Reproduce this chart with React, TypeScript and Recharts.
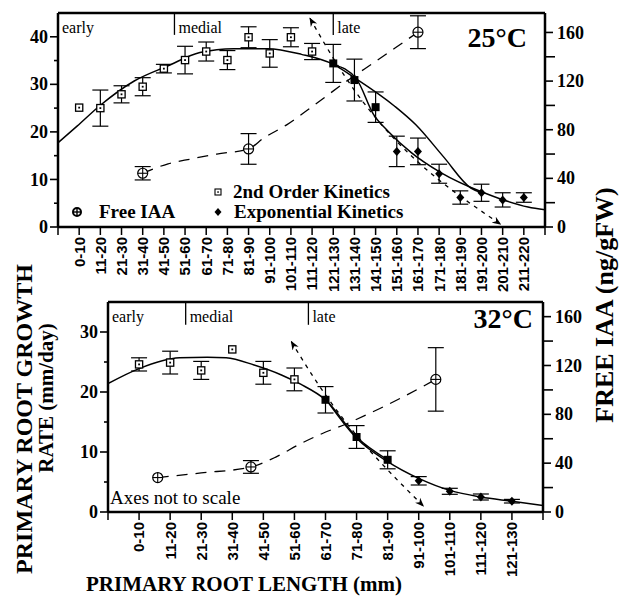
import React from 'react';
import { ComposedChart, Line, Scatter, XAxis, YAxis, ErrorBar, ReferenceLine } from 'recharts';

// ---------------- 25°C panel ----------------
const topCategories = ['0-10', '11-20', '21-30', '31-40', '41-50', '51-60', '61-70', '71-80', '81-90', '91-100', '101-110', '111-120', '121-130', '131-140', '141-150', '151-160', '161-170', '171-180', '181-190', '191-200', '201-210', '211-220'];

const top2ndOrderPos = [1, 2, 3, 4, 5, 6, 7, 8, 9, 10, 11, 12];
const top2ndOrderRate = [25.1, 25.0, 27.9, 29.5, 33.3, 35.1, 36.9, 35.1, 39.9, 36.5, 39.9, 36.9];
const top2ndOrderErr = [0, 3.8, 1.8, 1.9, 0.9, 2.9, 2.0, 2.0, 2.2, 2.9, 2.0, 1.7];

const topOverlapPos = [13, 14, 15];
const topOverlapRate = [34.4, 30.9, 25.2];
const topOverlapErr = [4.0, 4.4, 3.2];

const topExpPos = [16, 17, 18, 19, 20, 21, 22];
const topExpRate = [15.9, 15.9, 11.2, 6.2, 7.2, 5.7, 6.2];
const topExpErr = [3.2, 2.8, 2.0, 1.4, 1.8, 1.5, 1.0];

const topIaaPos = [4, 9, 17];
const topIaaValue = [44.2, 64.2, 160.2];
const topIaaErr = [5.5, 12.6, 13.5];

const top2ndFitPos = [0, 0.9, 2, 3.6, 5.2, 6.7, 8.3, 9.9, 11.5, 13, 14.1, 15.9, 16.9, 18.2, 19.5, 20];
const top2ndFitRate = [17.7, 21.2, 25.6, 30.7, 33.9, 36.7, 37.5, 37.5, 36.3, 34.2, 31.1, 25.4, 21.5, 14.8, 8.2, 7.2];
const topExpFitPos = [13, 14.1, 14.9, 15.6, 16.7, 18.1, 20, 20.9, 22.2, 23];
const topExpFitRate = [34.2, 31.1, 23.7, 20.1, 15.6, 11.4, 7.4, 5.9, 4.2, 3.6];
const topIaaFitPos = [4, 5.2, 6.3, 7.5, 9, 9.7, 10.8, 12, 13.8, 14.9, 15.9, 17];
const topIaaFitValue = [44.2, 52, 56, 60, 64.2, 73, 84, 99, 122, 135, 147, 160.2];
const topArrowPos = [11.9, 13.0, 20.9];
const topArrowRate = [43.9, 35.5, 0.6];
const topStageBounds = [0, 5.5, 13];

// ---------------- 32°C panel ----------------
const bottomCategories = ['0-10', '11-20', '21-30', '31-40', '41-50', '51-60', '61-70', '71-80', '81-90', '91-100', '101-110', '111-120', '121-130'];

const bot2ndOrderPos = [1, 2, 3, 4, 5, 6];
const bot2ndOrderRate = [24.6, 24.9, 23.6, 27.1, 23.2, 22.1];
const bot2ndOrderErr = [1.1, 1.9, 1.5, 0, 1.9, 1.9];

const botOverlapPos = [7, 8, 9];
const botOverlapRate = [18.7, 12.5, 8.7];
const botOverlapErr = [2.2, 1.9, 1.5];

const botExpPos = [10, 11, 12, 13];
const botExpRate = [5.2, 3.45, 2.5, 1.8];
const botExpErr = [0.7, 0.5, 0.5, 0.3];

const botIaaPos = [1.6, 4.6, 10.55];
const botIaaValue = [28.2, 36.9, 108.6];
const botIaaErr = [0, 5.2, 26];

const bot2ndFitPos = [0, 1, 2.3, 3.2, 3.8, 4.7, 5.6, 6.2, 7, 8, 9];
const bot2ndFitRate = [21.4, 23.9, 25.7, 25.8, 25.7, 24.5, 22.8, 21.3, 18.7, 12.5, 8.7];
const botExpFitPos = [7, 8, 9, 10, 11, 12, 13, 14];
const botExpFitRate = [18.9, 12.3, 8.4, 5.6, 3.6, 2.5, 1.8, 1.1];
const botIaaFitPos = [1.6, 3, 4.6, 5.4, 6.2, 6.9, 7.7, 8.75, 9.5, 10.55];
const botIaaFitValue = [28.2, 32, 36.9, 45, 56, 64.3, 72.5, 84.8, 94.3, 108.6];
const botArrowPos = [5.9, 6.7, 10.15];
const botArrowRate = [28.4, 21.8, 1.0];
const botStageBounds = [0, 2.5, 6.45];

const stageNames = ['early', 'medial', 'late'];

// axis ticks
const topLeftTicks = [0, 5, 10, 15, 20, 25, 30, 35, 40];
const botLeftTicks = [0, 5, 10, 15, 20, 25, 30];
const rightTicks = [0, 20, 40, 60, 80, 100, 120, 140, 160];

const SERIF = "'Times New Roman', 'Liberation Serif', 'DejaVu Serif', serif";
const SANS = "Arial, 'Liberation Sans', Helvetica, sans-serif";

const pts = (xs: number[], ys: number[], es?: number[]) =>
  xs.map((x, i) => ({ x, y: ys[i], err: es ? es[i] : 0 }));

const OpenSquare = (p: any) => {
  if (p.cx == null) return null;
  return (
    <g>
      <rect x={p.cx - 3.6} y={p.cy - 3.6} width={7.2} height={7.2} fill="#fff" stroke="#000" strokeWidth={1.3} />
      <rect x={p.cx - 0.9} y={p.cy - 0.9} width={1.8} height={1.8} fill="#000" />
    </g>
  );
};
const FilledSquare = (p: any) =>
  p.cx == null ? null : <rect x={p.cx - 4} y={p.cy - 4} width={8} height={8} fill="#000" />;
const Diamond = (p: any) =>
  p.cx == null ? null : (
    <polygon points={`${p.cx},${p.cy - 4.5} ${p.cx + 4},${p.cy} ${p.cx},${p.cy + 4.5} ${p.cx - 4},${p.cy}`} fill="#000" />
  );
const CrossCircle = (p: any) =>
  p.cx == null ? null : (
    <g>
      <circle cx={p.cx} cy={p.cy} r={5} fill="#fff" stroke="#000" strokeWidth={1.2} />
      <line x1={p.cx - 5} y1={p.cy} x2={p.cx + 5} y2={p.cy} stroke="#000" strokeWidth={1.1} />
      <line x1={p.cx} y1={p.cy - 5} x2={p.cx} y2={p.cy + 5} stroke="#000" strokeWidth={1.1} />
    </g>
  );

const makeXTick = (cats: string[]) => (p: any) => {
  const v = p.payload.value;
  const label = v >= 1 && v <= cats.length ? cats[v - 1] : '';
  return (
    <g>
      <line x1={p.x} y1={p.y} x2={p.x} y2={p.y + 8} stroke="#000" strokeWidth={1.5} />
      {label && (
        <text
          transform={`translate(${p.x},${p.y + 10}) rotate(-90)`}
          textAnchor="end"
          dy="0.36em"
          fontFamily={SANS}
          fontWeight="bold"
          fontSize={15}
          fill="#000"
        >
          {label}
        </text>
      )}
    </g>
  );
};

const makeLeftTick = (major: number) => (p: any) => {
  const v = p.payload.value;
  const isMajor = v % major === 0;
  return (
    <g>
      <line x1={p.x} y1={p.y} x2={p.x - (isMajor ? 8 : 4)} y2={p.y} stroke="#000" strokeWidth={1.6} />
      {isMajor && (
        <text x={p.x - 10} y={p.y} dy="0.34em" textAnchor="end" fontFamily={SERIF} fontWeight="bold" fontSize={18} fill="#000">
          {v}
        </text>
      )}
    </g>
  );
};

const makeRightTick = (major: number) => (p: any) => {
  const v = p.payload.value;
  const isMajor = v % major === 0;
  return (
    <g>
      <line x1={p.x} y1={p.y} x2={p.x + (isMajor ? 8 : 10)} y2={p.y} stroke="#000" strokeWidth={1.6} />
      {isMajor && (
        <text x={p.x + 12} y={p.y} dy="0.34em" textAnchor="start" fontFamily={SERIF} fontWeight="bold" fontSize={18} fill="#000">
          {v}
        </text>
      )}
    </g>
  );
};

const StageLabel = (props: any) => {
  const vb = props.viewBox || {};
  const x = vb.x != null ? vb.x : vb.x1;
  const y = vb.y != null ? vb.y : Math.min(vb.y1, vb.y2);
  return (
    <text x={x + 4} y={y + 20} fontFamily={SERIF} fontSize={16} fill="#000">
      {props.text}
    </text>
  );
};

const axisStyle = { stroke: '#000', strokeWidth: 2.5 };

type PanelProps = {
  id: string;
  cats: string[];
  height: number;
  margin: { top: number; right: number; bottom: number; left: number };
  leftMax: number;
  leftTicks: number[];
  rightMax: number;
  stageBounds: number[];
  stageBottom: number;
  openSq: any[];
  filledSq: any[];
  diamonds: any[];
  iaa: any[];
  fit2nd: any[];
  fitExp: any[];
  fitIaa: any[];
  arrow: any[];
};

const Panel = (pp: PanelProps) => {
  const n = pp.cats.length;
  const xTicks = [0, ...pp.cats.map((_, i) => i + 1), n + 1];
  const markerId = `arrow-${pp.id}`;
  return (
    <ComposedChart width={621} height={pp.height} margin={pp.margin}>
      <defs>
        <marker id={markerId} viewBox="0 0 10 10" refX="9" refY="5" markerWidth="9" markerHeight="9" orient="auto-start-reverse" markerUnits="userSpaceOnUse">
          <path d="M0,1 L10,5 L0,9 L3,5 Z" fill="#000" />
        </marker>
      </defs>
      <XAxis
        type="number"
        dataKey="x"
        domain={[0, n + 1]}
        ticks={xTicks}
        interval={0}
        allowDataOverflow
        height={60}
        tickSize={0}
        tickMargin={0}
        tickLine={false}
        axisLine={axisStyle}
        tick={makeXTick(pp.cats)}
      />
      <YAxis
        yAxisId="left"
        type="number"
        dataKey="y"
        domain={[0, pp.leftMax]}
        ticks={pp.leftTicks}
        interval={0}
        allowDataOverflow
        width={58}
        tickSize={0}
        tickMargin={0}
        tickLine={false}
        axisLine={axisStyle}
        tick={makeLeftTick(10)}
      />
      <YAxis
        yAxisId="right"
        orientation="right"
        type="number"
        dataKey="y"
        domain={[0, pp.rightMax]}
        ticks={rightTicks}
        interval={0}
        allowDataOverflow
        width={50}
        tickSize={0}
        tickMargin={0}
        tickLine={false}
        axisLine={axisStyle}
        tick={makeRightTick(40)}
      />
      <ReferenceLine yAxisId="left" y={pp.leftMax} stroke="#000" strokeWidth={2.5} />
      {pp.stageBounds.map((b, i) => (
        <ReferenceLine
          key={`stage-${i}`}
          yAxisId="left"
          segment={[{ x: b, y: pp.leftMax }, { x: b, y: pp.stageBottom }]}
          stroke="#000"
          strokeWidth={i === 0 ? 0 : 1.3}
          strokeOpacity={i === 0 ? 0 : 1}
          label={<StageLabel text={stageNames[i]} />}
        />
      ))}
      <Line yAxisId="right" data={pp.fitIaa} dataKey="y" type="monotone" dot={false} stroke="#000" strokeWidth={1.3} strokeDasharray="11 8" isAnimationActive={false} />
      <Line
        yAxisId="left"
        data={pp.arrow}
        dataKey="y"
        type="monotone"
        dot={false}
        stroke="#000"
        strokeWidth={1.3}
        strokeDasharray="4 5"
        markerStart={`url(#${markerId})`}
        markerEnd={`url(#${markerId})`}
        isAnimationActive={false}
      />
      <Line yAxisId="left" data={pp.fit2nd} dataKey="y" type="monotone" dot={false} stroke="#000" strokeWidth={1.5} isAnimationActive={false} />
      <Line yAxisId="left" data={pp.fitExp} dataKey="y" type="monotone" dot={false} stroke="#000" strokeWidth={1.5} isAnimationActive={false} />
      <Scatter yAxisId="left" data={pp.openSq} dataKey="y" shape={OpenSquare} isAnimationActive={false}>
        <ErrorBar dataKey="err" direction="y" width={8} stroke="#000" strokeWidth={1.2} />
      </Scatter>
      <Scatter yAxisId="left" data={pp.filledSq} dataKey="y" shape={FilledSquare} isAnimationActive={false}>
        <ErrorBar dataKey="err" direction="y" width={8} stroke="#000" strokeWidth={1.2} />
      </Scatter>
      <Scatter yAxisId="left" data={pp.diamonds} dataKey="y" shape={Diamond} isAnimationActive={false}>
        <ErrorBar dataKey="err" direction="y" width={8} stroke="#000" strokeWidth={1.2} />
      </Scatter>
      <Scatter yAxisId="right" data={pp.iaa} dataKey="y" shape={CrossCircle} isAnimationActive={false}>
        <ErrorBar dataKey="err" direction="y" width={8} stroke="#000" strokeWidth={1.2} />
      </Scatter>
    </ComposedChart>
  );
};

export default function App() {
  return (
    <div style={{ position: 'absolute', left: 0, top: 0, width: 621, height: 599, background: '#fff' }}>
      <div style={{ position: 'absolute', left: 0, top: 0 }}>
        <Panel
          id="t25"
          cats={topCategories}
          height={300}
          margin={{ top: 13, right: 26, bottom: 13, left: 0 }}
          leftMax={45}
          leftTicks={topLeftTicks}
          rightMax={176}
          stageBounds={topStageBounds}
          stageBottom={40.4}
          openSq={pts(top2ndOrderPos, top2ndOrderRate, top2ndOrderErr)}
          filledSq={pts(topOverlapPos, topOverlapRate, topOverlapErr)}
          diamonds={pts(topExpPos, topExpRate, topExpErr)}
          iaa={pts(topIaaPos, topIaaValue, topIaaErr)}
          fit2nd={pts(top2ndFitPos, top2ndFitRate)}
          fitExp={pts(topExpFitPos, topExpFitRate)}
          fitIaa={pts(topIaaFitPos, topIaaFitValue)}
          arrow={pts(topArrowPos, topArrowRate)}
        />
      </div>
      <div style={{ position: 'absolute', left: 0, top: 290 }}>
        <Panel
          id="b32"
          cats={bottomCategories}
          height={309}
          margin={{ top: 12, right: 28, bottom: 27, left: 50 }}
          leftMax={35}
          leftTicks={botLeftTicks}
          rightMax={172}
          stageBounds={botStageBounds}
          stageBottom={31.2}
          openSq={pts(bot2ndOrderPos, bot2ndOrderRate, bot2ndOrderErr)}
          filledSq={pts(botOverlapPos, botOverlapRate, botOverlapErr)}
          diamonds={pts(botExpPos, botExpRate, botExpErr)}
          iaa={pts(botIaaPos, botIaaValue, botIaaErr)}
          fit2nd={pts(bot2ndFitPos, bot2ndFitRate)}
          fitExp={pts(botExpFitPos, botExpFitRate)}
          fitIaa={pts(botIaaFitPos, botIaaFitValue)}
          arrow={pts(botArrowPos, botArrowRate)}
        />
      </div>
      <svg width={621} height={599} style={{ position: 'absolute', left: 0, top: 0, pointerEvents: 'none' }}>
        <text x={527} y={47} textAnchor="end" fontFamily={SERIF} fontWeight="bold" fontSize={28}>25°C</text>
        <text x={533} y={328} textAnchor="end" fontFamily={SERIF} fontWeight="bold" fontSize={28}>32°C</text>
        {/* legend */}
        <g>
          <circle cx={77} cy={212} r={4} fill="#fff" stroke="#000" strokeWidth={2} />
          <line x1={73} y1={212} x2={81} y2={212} stroke="#000" strokeWidth={1.4} />
          <line x1={77} y1={208} x2={77} y2={216} stroke="#000" strokeWidth={1.4} />
          <text x={99} y={218} fontFamily={SERIF} fontWeight="bold" fontSize={19}>Free IAA</text>
          <rect x={215} y={189} width={6} height={6} fill="#fff" stroke="#000" strokeWidth={1.1} />
          <rect x={217.3} y={191.3} width={1.5} height={1.5} fill="#000" />
          <text x={233} y={198} fontFamily={SERIF} fontWeight="bold" fontSize={19}>2nd Order Kinetics</text>
          <polygon points="218,208 221.5,212 218,216 214.5,212" fill="#000" />
          <text x={234} y={218} fontFamily={SERIF} fontWeight="bold" fontSize={19}>Exponential Kinetics</text>
        </g>
        <text x={110} y={504} fontFamily={SERIF} fontSize={19}>Axes not to scale</text>
        <text transform="translate(32,419) rotate(-90)" textAnchor="middle" fontFamily={SERIF} fontWeight="bold" fontSize={24}>PRIMARY ROOT GROWTH</text>
        <text transform="translate(53,398) rotate(-90)" textAnchor="middle" fontFamily={SERIF} fontWeight="bold" fontSize={21}>RATE (mm/day)</text>
        <text transform="translate(613,305) rotate(-90)" textAnchor="middle" fontFamily={SERIF} fontWeight="bold" fontSize={26}>FREE IAA (ng/gFW)</text>
        <text x={244} y={591} textAnchor="middle" fontFamily={SERIF} fontWeight="bold" fontSize={21}>PRIMARY ROOT LENGTH (mm)</text>
      </svg>
    </div>
  );
}
